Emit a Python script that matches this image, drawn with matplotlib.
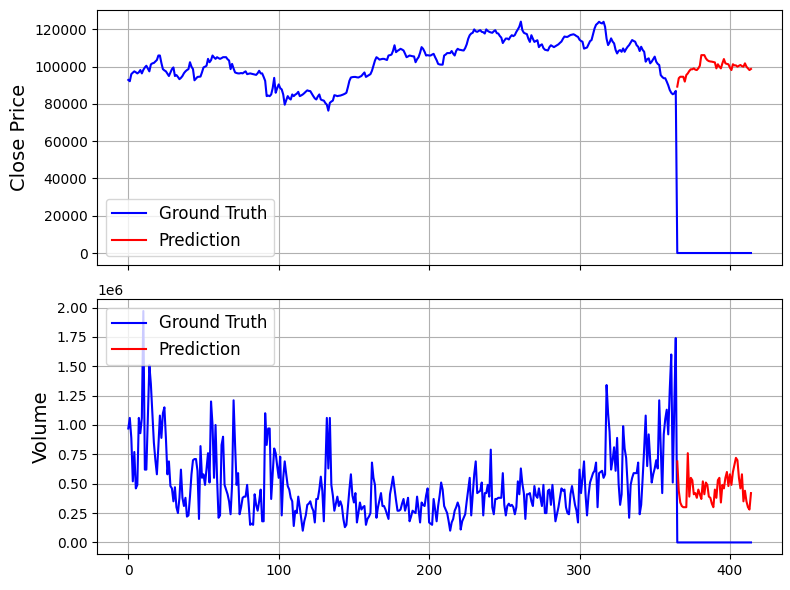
import matplotlib
matplotlib.use('Agg')
import matplotlib.pyplot as plt
import numpy as np

    # close price history (thousands)
closeHistK = [
    92.9, 92.2, 96.0, 96.8, 97.5, 97.0, 96.4, 97.0, 98.2, 96.4,
    98.3, 99.6, 100.5, 99.0, 97.5, 101.2, 101.8, 102.0, 102.8, 103.6,
    106.0, 106.0, 102.0, 98.7, 98.0, 97.5, 96.2, 95.0, 96.8, 98.7,
    99.6, 95.0, 95.5, 94.5, 93.3, 94.0, 95.0, 96.5, 97.5, 98.2,
    98.7, 102.4, 100.0, 98.7, 92.7, 93.6, 94.5, 94.6, 94.7, 97.0,
    99.6, 100.0, 100.5, 104.2, 102.4, 103.5, 106.0, 105.0, 104.2, 105.1,
    104.6, 104.2, 104.6, 105.1, 105.1, 105.1, 104.0, 103.3, 98.7, 101.5,
    99.0, 96.9, 96.6, 96.4, 96.4, 96.6, 96.4, 97.0, 97.5, 96.0,
    96.2, 96.4, 96.2, 96.0, 95.8, 95.6, 96.5, 97.8, 96.4, 96.4,
    94.5, 92.4, 84.2, 84.5, 84.2, 85.1, 88.5, 94.0, 86.0, 88.5,
    90.5, 88.5, 87.8, 85.1, 79.6, 82.0, 84.2, 83.0, 82.4, 85.1,
    84.2, 85.0, 85.5, 86.5, 84.2, 84.6, 85.1, 85.8, 86.6, 87.3,
    87.0, 86.9, 85.5, 84.2, 83.0, 82.4, 84.0, 85.1, 82.4, 82.0,
    81.8, 80.5, 79.6, 76.4, 80.6, 81.3, 81.8, 84.7, 84.5, 84.2,
    84.4, 84.5, 84.8, 85.1, 85.5, 86.0, 89.0, 92.4, 94.2, 94.4,
    94.5, 94.5, 94.3, 94.2, 94.6, 95.0, 96.0, 96.9, 94.5, 95.0,
    95.5, 96.0, 97.8, 100.5, 103.3, 105.1, 104.5, 103.8, 104.0, 104.2,
    104.2, 103.9, 103.6, 106.0, 106.2, 106.5, 108.5, 111.5, 107.8, 108.5,
    109.0, 109.6, 109.2, 108.7, 107.0, 105.1, 105.5, 106.0, 105.8, 105.6,
    105.5, 102.4, 104.0, 105.1, 107.5, 110.5, 109.6, 108.0, 106.0, 106.2,
    106.0, 106.0, 106.5, 106.9, 105.1, 103.5, 101.5, 101.2, 101.1, 101.1,
    106.0, 106.5, 107.3, 107.3, 107.3, 108.4, 107.0, 106.0, 108.5, 109.6,
    109.1, 109.0, 108.8, 108.7, 110.0, 112.0, 115.0, 116.9, 117.8, 118.2,
    120.0, 119.0, 118.7, 119.2, 119.6, 118.7, 118.5, 117.8, 120.0, 119.2,
    118.7, 118.4, 118.2, 119.0, 119.6, 118.0, 117.8, 116.5, 115.6, 112.7,
    114.0, 115.1, 115.1, 114.6, 116.0, 116.9, 116.4, 117.0, 118.7, 120.0,
    121.5, 124.2, 119.6, 118.2, 117.8, 117.5, 115.0, 113.3, 116.9, 115.0,
    113.3, 113.8, 114.2, 110.5, 111.5, 112.0, 110.0, 109.1, 108.9, 108.7,
    110.5, 111.5, 111.0, 110.5, 111.0, 111.5, 112.0, 112.8, 113.5, 115.0,
    116.2, 116.0, 116.0, 116.5, 117.0, 117.2, 117.4, 117.0, 116.4, 116.0,
    114.5, 113.8, 113.4, 109.7, 110.0, 110.3, 112.0, 113.7, 114.3, 117.5,
    120.5, 122.5, 123.2, 124.1, 123.5, 123.2, 124.1, 121.4, 115.0, 111.6,
    113.0, 115.2, 113.5, 112.5, 109.0, 107.1, 108.5, 108.9, 108.0, 109.8,
    108.0, 109.5, 110.7, 111.6, 113.0, 114.3, 113.8, 113.4, 111.5, 110.7,
    108.4, 110.7, 109.0, 108.0, 102.7, 104.0, 104.5, 101.8, 102.7, 104.0,
    105.4, 102.7, 101.5, 100.9, 95.5, 94.5, 93.8, 93.8, 92.0, 90.0,
    87.5, 86.0, 85.2, 85.7, 87.0,
]

    # predicted close (thousands)
closePredK = [
    89.3, 93.8, 94.6, 94.6, 94.6, 92.0, 95.5, 96.4, 97.7, 98.6,
    98.6, 99.1, 98.4, 98.2, 99.1, 100.5, 106.2, 106.2, 106.2, 104.5,
    103.5, 103.0, 102.8, 102.7, 102.5, 102.3, 99.1, 101.3, 100.0, 99.1,
    101.8, 104.1, 101.8, 101.5, 101.3, 99.5, 98.2, 101.3, 100.7, 100.7,
    100.0, 100.5, 100.9, 100.3, 100.0, 101.8, 100.0, 99.1, 98.2, 98.8,
]

    # volume history (millions)
volHistM = [
    0.97, 1.06, 0.89, 0.52, 0.77, 0.46, 0.49, 1.06, 0.93, 1.06,
    1.97, 0.62, 0.62, 1.05, 1.51, 1.35, 1.10, 0.85, 0.70, 0.58,
    0.82, 1.08, 0.89, 1.10, 1.15, 0.89, 0.58, 0.69, 0.48, 0.46,
    0.35, 0.47, 0.30, 0.25, 0.38, 0.62, 0.38, 0.31, 0.38, 0.22,
    0.23, 0.39, 0.58, 0.70, 0.71, 0.71, 0.61, 0.20, 0.82, 0.55,
    0.58, 0.49, 0.63, 0.76, 0.51, 1.20, 1.00, 0.55, 1.00, 0.55,
    0.21, 0.23, 0.83, 0.90, 0.49, 0.45, 0.41, 0.35, 0.24, 0.49,
    1.21, 0.83, 0.49, 0.59, 0.24, 0.30, 0.38, 0.39, 0.39, 0.49,
    0.33, 0.15, 0.16, 0.15, 0.41, 0.32, 0.27, 0.35, 0.45, 0.18,
    0.18, 1.10, 0.83, 0.97, 0.97, 0.37, 0.58, 0.80, 0.76, 0.65,
    0.55, 0.73, 0.23, 0.55, 0.69, 0.58, 0.48, 0.45, 0.38, 0.35,
    0.14, 0.27, 0.25, 0.39, 0.30, 0.20, 0.10, 0.18, 0.23, 0.32,
    0.33, 0.35, 0.30, 0.27, 0.17, 0.37, 0.37, 0.45, 0.56, 0.44,
    0.18, 0.60, 1.06, 0.63, 1.06, 0.49, 0.40, 0.27, 0.33, 0.39,
    0.31, 0.35, 0.31, 0.20, 0.13, 0.15, 0.30, 0.45, 0.58, 0.40,
    0.34, 0.42, 0.17, 0.25, 0.34, 0.28, 0.30, 0.31, 0.15, 0.20,
    0.22, 0.25, 0.68, 0.55, 0.49, 0.21, 0.30, 0.36, 0.42, 0.31,
    0.31, 0.28, 0.24, 0.20, 0.41, 0.48, 0.56, 0.46, 0.36, 0.27,
    0.27, 0.28, 0.33, 0.37, 0.27, 0.32, 0.38, 0.18, 0.22, 0.27,
    0.26, 0.25, 0.39, 0.28, 0.17, 0.34, 0.32, 0.31, 0.40, 0.46,
    0.17, 0.16, 0.15, 0.37, 0.28, 0.18, 0.31, 0.40, 0.51, 0.45,
    0.31, 0.28, 0.25, 0.18, 0.10, 0.17, 0.20, 0.27, 0.30, 0.34,
    0.30, 0.11, 0.18, 0.21, 0.24, 0.35, 0.45, 0.55, 0.23, 0.40,
    0.58, 0.69, 0.42, 0.43, 0.44, 0.51, 0.23, 0.42, 0.42, 0.49,
    0.39, 0.79, 0.30, 0.24, 0.37, 0.37, 0.38, 0.38, 0.38, 0.59,
    0.32, 0.23, 0.31, 0.33, 0.31, 0.32, 0.30, 0.24, 0.30, 0.52,
    0.41, 0.63, 0.50, 0.42, 0.20, 0.41, 0.41, 0.42, 0.35, 0.31,
    0.48, 0.40, 0.38, 0.46, 0.38, 0.31, 0.49, 0.25, 0.25, 0.44,
    0.45, 0.32, 0.49, 0.34, 0.18, 0.24, 0.30, 0.38, 0.46, 0.44,
    0.45, 0.30, 0.25, 0.24, 0.41, 0.48, 0.40, 0.32, 0.27, 0.17,
    0.62, 0.42, 0.55, 0.69, 0.41, 0.23, 0.40, 0.51, 0.55, 0.59,
    0.61, 0.68, 0.30, 0.59, 0.60, 0.61, 0.55, 0.58, 1.34, 1.10,
    0.94, 0.62, 0.70, 0.81, 0.61, 0.89, 0.50, 0.32, 0.41, 0.99,
    0.80, 0.72, 0.49, 0.21, 0.49, 0.55, 0.59, 0.59, 0.59, 0.68,
    0.24, 0.32, 0.55, 0.80, 1.08, 0.65, 0.92, 0.70, 0.51, 0.58,
    0.63, 0.70, 0.63, 1.21, 0.80, 0.42, 0.92, 1.05, 1.13, 0.92,
    1.30, 1.60, 0.51, 1.15, 1.74,
]

    # predicted volume (millions)
volPredM = [
    0.69, 0.44, 0.34, 0.31, 0.30, 0.30, 0.30, 0.76, 0.39, 0.55,
    0.53, 0.41, 0.42, 0.38, 0.45, 0.41, 0.37, 0.52, 0.41, 0.51,
    0.49, 0.39, 0.38, 0.33, 0.30, 0.45, 0.38, 0.53, 0.55, 0.34,
    0.49, 0.46, 0.55, 0.60, 0.48, 0.58, 0.49, 0.60, 0.66, 0.72,
    0.70, 0.55, 0.46, 0.58, 0.35, 0.44, 0.35, 0.30, 0.28, 0.42,
]

    # ground truth is padded with zeros over the forecast window
closeTrue = np.array(closeHistK + [0.0] * len(closePredK)) * 1000
closePred = np.array(closePredK) * 1000
volTrue = np.array(volHistM + [0.0] * len(volPredM)) * 1e6
volPred = np.array(volPredM) * 1e6

days = np.arange(len(closeTrue))
predDays = np.arange(len(closeHistK), len(closeHistK) + len(closePredK))

fig, (ax1, ax2) = plt.subplots(2, 1, figsize=(7.9, 5.9), dpi=100, sharex=True)

ax1.plot(days, closeTrue, 'b', label='Ground Truth')
ax1.plot(predDays, closePred, 'r', label='Prediction')
ax1.set_ylabel('Close Price', fontsize=14)
ax1.legend(loc='lower left', fontsize=12)
ax1.grid(True)

ax2.plot(days, volTrue, 'b', label='Ground Truth')
ax2.plot(predDays, volPred, 'r', label='Prediction')
ax2.set_ylabel('Volume', fontsize=14)
ax2.legend(loc='upper left', fontsize=12)
ax2.grid(True)

fig.subplots_adjust(left=0.123, right=0.99, top=0.983, bottom=0.061, hspace=0.137)
plt.savefig('out.png')
